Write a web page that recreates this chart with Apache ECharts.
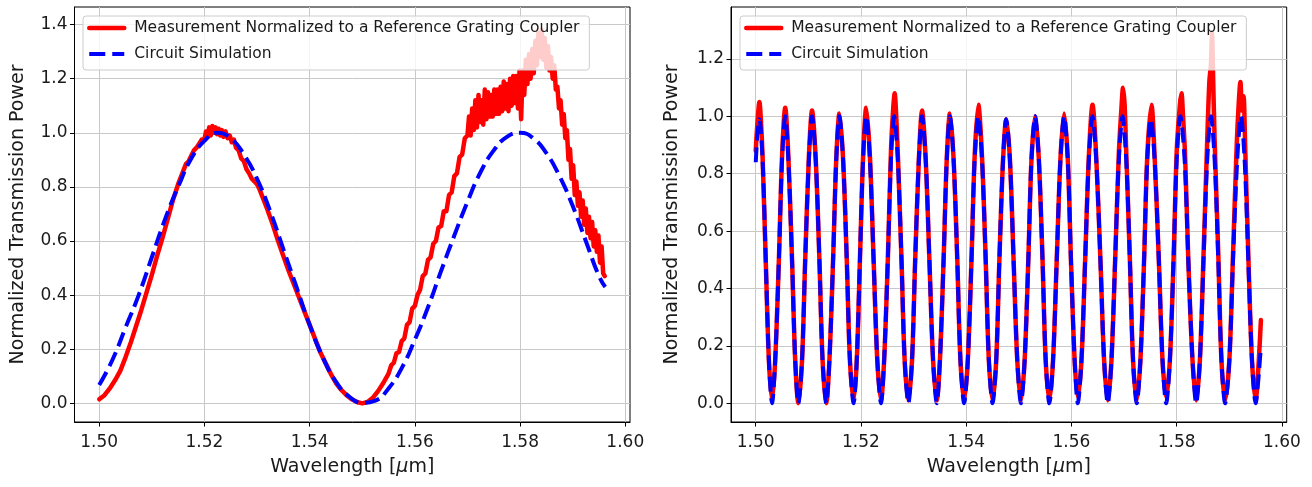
<!DOCTYPE html>
<html>
<head>
<meta charset="utf-8">
<script src="https://cdn.jsdelivr.net/npm/echarts@6/dist/echarts.min.js"></script>
<style>
html,body{margin:0;padding:0;background:#fff;}
#chart{width:1312px;height:487px;}
</style>
</head>
<body>
<div id="chart"></div>
<script>
// ---- Data ----
const measName = 'Measurement Normalized to a Reference Grating Coupler';
const simName = 'Circuit Simulation';

const xTickValues = [1.50, 1.52, 1.54, 1.56, 1.58, 1.60];
const leftYTickValues = [0.0, 0.2, 0.4, 0.6, 0.8, 1.0, 1.2, 1.4];
const rightYTickValues = [0.0, 0.2, 0.4, 0.6, 0.8, 1.0, 1.2];

// Left panel: measured (red) [wavelength um, power]
const leftMeasurement = [
[1.5000,0.015],[1.5010,0.030],[1.5020,0.055],[1.5030,0.085],[1.5040,0.120],[1.5050,0.170],
[1.5060,0.225],[1.5070,0.285],[1.5080,0.345],[1.5090,0.410],[1.5100,0.475],[1.5110,0.545],
[1.5120,0.610],[1.5130,0.680],[1.5140,0.750],[1.5150,0.810],[1.5160,0.860],[1.5165,0.885],
[1.5170,0.895],[1.5175,0.915],[1.5180,0.935],[1.5185,0.945],[1.5190,0.960],[1.5195,0.975],
[1.5200,0.975],[1.5203,1.005],[1.5206,0.985],[1.5209,1.020],[1.5212,0.990],[1.5215,1.025],
[1.5218,1.000],[1.5221,1.020],[1.5224,0.995],[1.5227,1.015],[1.5230,0.990],[1.5233,1.010],
[1.5236,0.985],[1.5240,1.005],[1.5244,0.980],[1.5248,0.990],[1.5252,0.965],[1.5256,0.975],
[1.5260,0.945],[1.5265,0.935],[1.5270,0.905],[1.5275,0.895],[1.5280,0.865],[1.5285,0.850],
[1.5290,0.830],[1.5300,0.810],[1.5305,0.790],[1.5310,0.765],[1.5320,0.715],[1.5330,0.660],
[1.5340,0.600],[1.5350,0.545],[1.5360,0.490],[1.5370,0.440],[1.5380,0.390],[1.5390,0.340],
[1.5400,0.290],[1.5410,0.240],[1.5420,0.190],[1.5430,0.150],[1.5440,0.110],[1.5450,0.075],
[1.5460,0.050],[1.5470,0.030],[1.5480,0.015],[1.5490,0.005],[1.5500,0.000],[1.5510,0.005],
[1.5520,0.020],[1.5530,0.045],[1.5540,0.075],[1.5550,0.110],[1.5555,0.140],[1.5560,0.150],
[1.5565,0.185],[1.5570,0.190],[1.5575,0.230],[1.5580,0.240],[1.5585,0.290],[1.5590,0.300],
[1.5595,0.350],[1.5600,0.360],[1.5605,0.400],[1.5610,0.420],[1.5615,0.470],[1.5620,0.480],
[1.5625,0.530],[1.5630,0.540],[1.5635,0.590],[1.5640,0.600],[1.5645,0.650],[1.5650,0.655],
[1.5655,0.710],[1.5660,0.710],[1.5665,0.770],[1.5670,0.780],[1.5675,0.840],[1.5680,0.850],
[1.5685,0.910],[1.5690,0.920],[1.5695,0.980],[1.5700,0.990],
[1.5703,1.06],[1.5706,0.99],[1.5709,1.09],[1.5712,1.01],[1.5715,1.12],[1.5718,1.02],
[1.5721,1.14],[1.5724,1.04],[1.5727,1.12],[1.5730,1.03],[1.5733,1.16],[1.5736,1.05],
[1.5739,1.15],[1.5742,1.06],[1.5745,1.14],[1.5748,1.06],[1.5751,1.16],[1.5754,1.07],
[1.5757,1.16],[1.5760,1.07],[1.5763,1.17],[1.5766,1.08],[1.5769,1.19],[1.5772,1.09],
[1.5775,1.18],[1.5778,1.08],[1.5781,1.20],[1.5784,1.10],[1.5787,1.21],[1.5790,1.11],
[1.5793,1.21],[1.5796,1.09],[1.5799,1.23],[1.5802,1.05],[1.5805,1.23],[1.5808,1.14],
[1.5811,1.27],[1.5814,1.18],[1.5817,1.29],[1.5820,1.20],[1.5823,1.31],[1.5826,1.22],
[1.5829,1.34],[1.5832,1.25],[1.5835,1.37],[1.5838,1.28],[1.5841,1.38],[1.5844,1.27],
[1.5847,1.35],[1.5850,1.24],[1.5853,1.32],[1.5856,1.23],[1.5859,1.28],[1.5862,1.20],
[1.5865,1.25],[1.5868,1.16],[1.5871,1.17],[1.5874,1.09],[1.5877,1.12],[1.5880,1.03],
[1.5883,1.07],[1.5886,0.98],[1.5889,1.01],[1.5892,0.90],[1.5895,0.94],[1.5898,0.83],
[1.5901,0.88],[1.5904,0.77],[1.5907,0.82],[1.5910,0.73],[1.5913,0.78],[1.5916,0.69],
[1.5919,0.75],[1.5922,0.66],[1.5925,0.72],[1.5928,0.63],[1.5931,0.69],[1.5934,0.61],
[1.5937,0.67],[1.5940,0.58],[1.5943,0.64],[1.5946,0.56],[1.5949,0.62],[1.5952,0.52],
[1.5955,0.58],[1.5958,0.48],[1.5961,0.47]
];

// Left panel: circuit simulation (blue dashed)
const leftSimulation = [
[1.5000,0.068],[1.5025,0.160],[1.5050,0.280],[1.5075,0.400],[1.5100,0.540],[1.5125,0.680],
[1.5150,0.800],[1.5175,0.905],[1.5200,0.970],[1.5225,1.000],[1.5250,0.980],[1.5275,0.920],
[1.5300,0.830],[1.5325,0.710],[1.5350,0.570],[1.5375,0.430],[1.5400,0.290],[1.5425,0.170],
[1.5450,0.080],[1.5475,0.025],[1.5500,0.002],[1.5525,0.010],[1.5550,0.055],[1.5575,0.130],
[1.5600,0.235],[1.5625,0.355],[1.5650,0.490],[1.5675,0.620],[1.5700,0.745],[1.5725,0.855],
[1.5750,0.935],[1.5775,0.985],[1.5800,1.000],[1.5825,0.980],[1.5850,0.925],[1.5875,0.840],
[1.5900,0.730],[1.5925,0.600],[1.5950,0.470],[1.5962,0.430]
];

// Right panel: measured (red)
const rightMeasurement = [
[1.5000,0.88],[1.5003,0.97],[1.5007,1.05],[1.5010,0.98],[1.5013,0.86],[1.5019,0.50],[1.5025,0.15],
[1.5031,0.01],[1.5037,0.15],[1.5044,0.50],[1.5050,0.86],[1.5056,1.03],[1.5062,0.86],[1.5069,0.50],
[1.5075,0.15],[1.5081,0.00],[1.5088,0.15],[1.5094,0.50],[1.5101,0.86],[1.5107,1.02],[1.5114,0.85],
[1.5121,0.50],[1.5127,0.15],[1.5134,0.00],[1.5140,0.15],[1.5147,0.50],[1.5153,0.85],[1.5159,1.01],
[1.5166,0.85],[1.5173,0.50],[1.5179,0.15],[1.5186,0.01],[1.5192,0.15],[1.5198,0.50],[1.5204,0.86],
[1.5210,1.03],[1.5217,0.86],[1.5224,0.50],[1.5231,0.15],[1.5238,0.01],[1.5244,0.15],[1.5251,0.50],
[1.5257,0.88],[1.5261,1.02],[1.5264,1.08],[1.5267,1.00],[1.5270,0.87],[1.5277,0.50],[1.5283,0.15],
[1.5290,0.01],[1.5297,0.15],[1.5303,0.50],[1.5310,0.85],[1.5316,1.02],[1.5323,0.85],[1.5330,0.50],
[1.5337,0.15],[1.5344,0.01],[1.5350,0.15],[1.5357,0.50],[1.5363,0.85],[1.5369,1.01],[1.5376,0.85],
[1.5383,0.50],[1.5389,0.15],[1.5396,0.01],[1.5403,0.15],[1.5410,0.50],[1.5416,0.86],[1.5423,1.04],
[1.5430,0.86],[1.5437,0.50],[1.5443,0.15],[1.5450,0.01],[1.5457,0.15],[1.5463,0.50],[1.5470,0.85],
[1.5476,0.99],[1.5483,0.85],[1.5490,0.50],[1.5497,0.15],[1.5504,0.01],[1.5511,0.15],[1.5518,0.50],
[1.5524,0.85],[1.5531,1.00],[1.5538,0.85],[1.5545,0.50],[1.5551,0.15],[1.5558,0.01],[1.5565,0.15],
[1.5572,0.50],[1.5579,0.85],[1.5586,1.01],[1.5593,0.85],[1.5599,0.50],[1.5606,0.15],[1.5612,0.02],
[1.5619,0.15],[1.5626,0.50],[1.5633,0.86],[1.5640,1.04],[1.5647,0.86],[1.5655,0.50],[1.5662,0.15],
[1.5669,0.01],[1.5676,0.15],[1.5683,0.50],[1.5690,0.87],[1.5695,1.03],[1.5698,1.10],[1.5701,1.04],
[1.5704,0.88],[1.5711,0.50],[1.5717,0.15],[1.5724,0.01],[1.5731,0.15],[1.5738,0.50],[1.5744,0.86],
[1.5752,1.04],[1.5758,0.86],[1.5766,0.50],[1.5773,0.15],[1.5780,0.02],[1.5787,0.15],[1.5794,0.50],
[1.5800,0.88],[1.5806,1.04],[1.5809,1.08],[1.5812,1.00],[1.5816,0.86],[1.5822,0.50],[1.5830,0.15],
[1.5837,0.01],[1.5844,0.15],[1.5851,0.52],[1.5858,0.92],[1.5862,1.12],[1.5865,1.18],[1.5867,1.29],
[1.5869,1.15],[1.5872,0.92],[1.5879,0.52],[1.5885,0.15],[1.5892,0.01],[1.5900,0.15],[1.5907,0.52],
[1.5914,0.90],[1.5918,1.05],[1.5921,1.12],[1.5924,1.02],[1.5927,1.07],[1.5930,0.90],[1.5936,0.52],
[1.5943,0.15],[1.5950,0.01],[1.5955,0.12],[1.5960,0.29]
];

// Right panel: circuit simulation (blue dashed)
const rightSimulation = [
[1.5000,0.84],[1.5003,0.93],[1.5007,0.99],[1.5013,0.85],[1.5019,0.50],[1.5025,0.15],[1.5031,0.00],
[1.5037,0.15],[1.5044,0.50],[1.5050,0.85],[1.5056,1.00],[1.5062,0.85],[1.5069,0.50],[1.5075,0.15],
[1.5081,0.00],[1.5088,0.15],[1.5094,0.50],[1.5101,0.85],[1.5107,1.00],[1.5114,0.85],[1.5121,0.50],
[1.5127,0.15],[1.5134,0.00],[1.5140,0.15],[1.5147,0.50],[1.5153,0.85],[1.5159,1.00],[1.5166,0.85],
[1.5173,0.50],[1.5179,0.15],[1.5186,0.00],[1.5192,0.15],[1.5198,0.50],[1.5204,0.85],[1.5210,1.00],
[1.5217,0.85],[1.5224,0.50],[1.5231,0.15],[1.5238,0.00],[1.5244,0.15],[1.5251,0.50],[1.5257,0.85],
[1.5263,1.00],[1.5270,0.85],[1.5277,0.50],[1.5283,0.15],[1.5290,0.00],[1.5297,0.15],[1.5303,0.50],
[1.5310,0.85],[1.5316,1.00],[1.5323,0.85],[1.5330,0.50],[1.5337,0.15],[1.5344,0.00],[1.5350,0.15],
[1.5357,0.50],[1.5363,0.85],[1.5369,1.00],[1.5376,0.85],[1.5383,0.50],[1.5389,0.15],[1.5396,0.00],
[1.5403,0.15],[1.5410,0.50],[1.5416,0.85],[1.5423,1.00],[1.5430,0.85],[1.5437,0.50],[1.5443,0.15],
[1.5450,0.00],[1.5457,0.15],[1.5463,0.50],[1.5470,0.85],[1.5476,0.99],[1.5483,0.85],[1.5490,0.50],
[1.5497,0.15],[1.5504,0.00],[1.5511,0.15],[1.5518,0.50],[1.5524,0.85],[1.5531,1.00],[1.5538,0.85],
[1.5545,0.50],[1.5551,0.15],[1.5558,0.00],[1.5565,0.15],[1.5572,0.50],[1.5579,0.85],[1.5586,1.00],
[1.5593,0.85],[1.5599,0.50],[1.5606,0.15],[1.5612,0.00],[1.5619,0.15],[1.5626,0.50],[1.5633,0.85],
[1.5640,1.00],[1.5647,0.85],[1.5655,0.50],[1.5662,0.15],[1.5669,0.00],[1.5676,0.15],[1.5683,0.50],
[1.5690,0.85],[1.5697,1.00],[1.5704,0.85],[1.5711,0.50],[1.5717,0.15],[1.5724,0.00],[1.5731,0.15],
[1.5738,0.50],[1.5744,0.85],[1.5751,0.99],[1.5758,0.85],[1.5766,0.50],[1.5773,0.15],[1.5780,0.00],
[1.5787,0.15],[1.5794,0.50],[1.5800,0.85],[1.5807,1.00],[1.5815,0.85],[1.5822,0.50],[1.5830,0.15],
[1.5837,0.00],[1.5844,0.15],[1.5851,0.50],[1.5858,0.85],[1.5865,1.00],[1.5872,0.85],[1.5879,0.50],
[1.5885,0.15],[1.5892,0.00],[1.5900,0.15],[1.5907,0.50],[1.5915,0.85],[1.5922,1.00],[1.5929,0.85],
[1.5936,0.50],[1.5943,0.15],[1.5950,0.00],[1.5955,0.08],[1.5960,0.20]
];

// ---- Chart ----
const FONT = 'DejaVu Sans';
const TXT = '#1a1a1a';
const RED = '#ff0000';
const BLUE = '#0000ff';
const DASH = [15, 6.5];

function xAxisCfg(gridIndex) {
  return {
    type: 'value', gridIndex: gridIndex, min: 1.4953, max: 1.6009,
    axisLine: { show: true, onZero: false, lineStyle: { color: '#000', width: 1 } },
    axisTick: { show: true, customValues: xTickValues, length: 4.5, lineStyle: { color: '#000', width: 1 } },
    axisLabel: { customValues: xTickValues, formatter: v => v.toFixed(2), fontFamily: FONT, fontSize: 17, color: TXT, margin: 12 },
    splitLine: { show: true, lineStyle: { color: '#c8c8c8', width: 1 } },
    name: 'Wavelength [{i|\u03bc}m]', nameLocation: 'middle', nameGap: 36,
    nameTextStyle: { fontFamily: FONT, fontSize: 19, color: TXT,
      rich: { i: { fontFamily: FONT, fontSize: 19, fontStyle: 'italic', color: TXT } } }
  };
}
function yAxisCfg(gridIndex, min, max, ticks, gap) {
  return {
    type: 'value', gridIndex: gridIndex, min: min, max: max,
    axisLine: { show: true, onZero: false, lineStyle: { color: '#000', width: 1 } },
    axisTick: { show: true, customValues: ticks, length: 4.5, lineStyle: { color: '#000', width: 1 } },
    axisLabel: { customValues: ticks, formatter: v => v.toFixed(1), fontFamily: FONT, fontSize: 17, color: TXT, margin: 7 },
    splitLine: { show: true, lineStyle: { color: '#c8c8c8', width: 1 } },
    name: 'Normalized Transmission Power', nameLocation: 'middle', nameGap: gap,
    nameTextStyle: { fontFamily: FONT, fontSize: 19, color: TXT }
  };
}
function legendCfg(left) {
  return {
    left: left, top: 16, orient: 'vertical',
    data: [
      { name: measName, itemStyle: { color: 'rgba(0,0,0,0)', borderWidth: 0, opacity: 0 },
        lineStyle: { color: RED, width: 4.5, type: 'solid', opacity: 1 } },
      { name: simName, itemStyle: { color: 'rgba(0,0,0,0)', borderWidth: 0, opacity: 0 },
        lineStyle: { color: BLUE, width: 4, type: [16, 7], opacity: 1 } }
    ],
    itemWidth: 35, itemHeight: 14, itemGap: 10,
    padding: [4, 10, 8, 4],
    backgroundColor: 'rgba(255,255,255,0.8)',
    borderColor: '#cccccc', borderWidth: 1, borderRadius: 3,
    selectedMode: false,
    textStyle: { fontFamily: FONT, fontSize: 15.5, lineHeight: 15, color: TXT, padding: [0, 0, 0, 5] }
  };
}
function measSeries(idx, data, smooth) {
  return {
    name: measName, type: 'line', xAxisIndex: idx, yAxisIndex: idx, data: data,
    symbol: 'none', smooth: smooth, z: 3,
    lineStyle: { color: RED, width: 4.5, cap: 'round', join: 'round' },
    itemStyle: { color: RED }
  };
}
function simSeries(idx, data, smooth) {
  return {
    name: simName, type: 'line', xAxisIndex: idx, yAxisIndex: idx, data: data,
    symbol: 'none', smooth: smooth, z: 4,
    lineStyle: { color: BLUE, width: 4, type: DASH, cap: 'butt', join: 'round' },
    itemStyle: { color: BLUE }
  };
}

const chart = echarts.init(document.getElementById('chart'), null, { renderer: 'canvas' });
chart.setOption({
  animation: false,
  backgroundColor: '#ffffff',
  grid: [
    { left: 74.5, top: 7, width: 555.5, height: 415, show: true, borderColor: '#000', borderWidth: 1, backgroundColor: 'transparent' },
    { left: 731, top: 7, width: 555.7, height: 415, show: true, borderColor: '#000', borderWidth: 1, backgroundColor: 'transparent' }
  ],
  legend: [legendCfg(83), legendCfg(740)],
  xAxis: [xAxisCfg(0), xAxisCfg(1)],
  yAxis: [
    yAxisCfg(0, -0.0691, 1.465, leftYTickValues, 47),
    yAxisCfg(1, -0.0652, 1.381, rightYTickValues, 49)
  ],
  series: [
    measSeries(0, leftMeasurement, false),
    simSeries(0, leftSimulation, 0.5),
    measSeries(1, rightMeasurement, 0.3),
    simSeries(1, rightSimulation, 0.3)
  ]
});
</script>
</body>
</html>
